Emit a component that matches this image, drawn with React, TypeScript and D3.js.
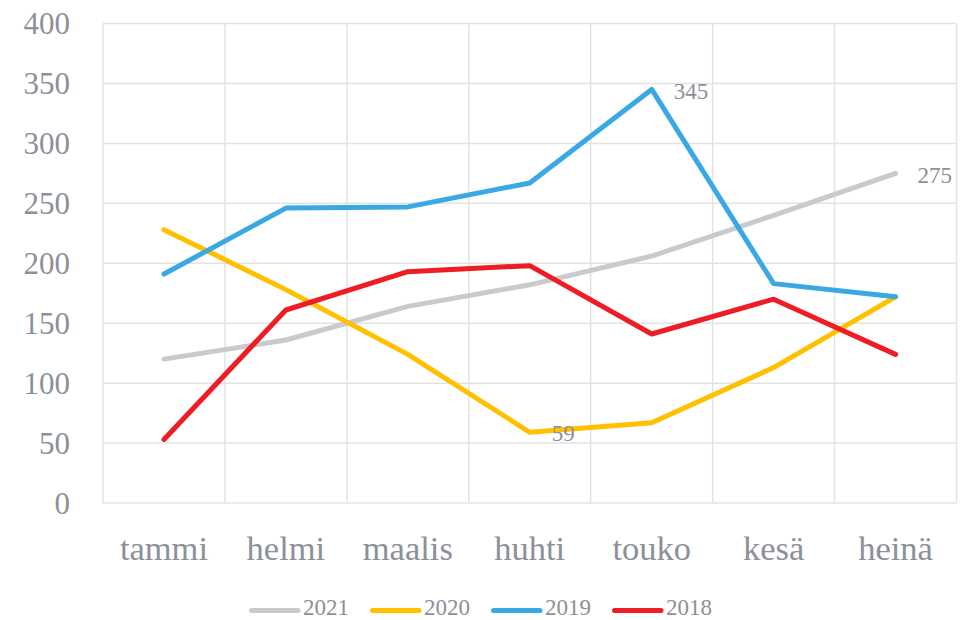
import React from "react";
import * as d3 from "d3";

const months = ["tammi", "helmi", "maalis", "huhti", "touko", "kesä", "heinä"];
const yTicks = [0, 50, 100, 150, 200, 250, 300, 350, 400];
const seriesNames = ["2021", "2020", "2019", "2018"];
const colors = ["#c9cacd", "#ffc000", "#3aa8e2", "#ee1d25"];
const v2021 = [120, 136, 164, 182, 206, 240, 275];
const v2020 = [228, 178, 124, 59, 67, 113, 172];
const v2019 = [191, 246, 247, 267, 345, 183, 172];
const v2018 = [53, 161, 193, 198, 141, 170, 124];
const seriesValues = [v2021, v2020, v2019, v2018];
// data labels: [series index, month index]
const dataLabels: [number, number][] = [[2, 4], [0, 6], [1, 3]];

const W = 962, H = 620;
const left = 103, right = 956.5, top = 23.5, bottom = 503;
const textColor = "#8c9099";
const font = "'Liberation Serif', 'DejaVu Serif', serif";

export default function App() {
  const x = d3.scaleBand<string>().domain(months).range([left, right]);
  const y = d3.scaleLinear().domain([0, 400]).range([bottom, top]);
  const cx = (i: number) => (x(months[i]) as number) + x.bandwidth() / 2;
  const line = d3.line<number>().x((_, i) => cx(i)).y((d) => y(d));
  const legendX = [249, 370, 491, 612];
  return (
    <svg width={W} height={H} style={{ position: "absolute", left: 0, top: 0, background: "#fff" }}>
      <g stroke="#e3e3e3" strokeWidth={1.5}>
        {yTicks.map((t) => (
          <line key={t} x1={left} x2={right} y1={y(t)} y2={y(t)} />
        ))}
        {months.map((m) => (
          <line key={m} x1={x(m)} x2={x(m)} y1={top} y2={bottom} />
        ))}
        <line x1={right} x2={right} y1={top} y2={bottom} />
      </g>
      <g fill={textColor} fontFamily={font} fontSize={31} textAnchor="end">
        {yTicks.map((t) => (
          <text key={t} x={70} y={y(t)} dy="0.35em">{t}</text>
        ))}
      </g>
      <g fill={textColor} fontFamily={font} fontSize={34.5} textAnchor="middle">
        {months.map((m, i) => (
          <text key={m} x={cx(i)} y={560}>{m}</text>
        ))}
      </g>
      <g fill="none" strokeWidth={5} strokeLinecap="round" strokeLinejoin="round">
        {seriesValues.map((vals, s) => (
          <path key={s} d={line(vals) as string} stroke={colors[s]} />
        ))}
      </g>
      <g fill={textColor} fontFamily={font} fontSize={23}>
        {dataLabels.map(([s, i]) => (
          <text key={s} x={cx(i) + 22} y={y(seriesValues[s][i])} dy="0.4em">{seriesValues[s][i]}</text>
        ))}
      </g>
      <g fontFamily={font} fontSize={23}>
        {seriesNames.map((n, s) => (
          <g key={n}>
            <line x1={legendX[s] + 2.5} x2={legendX[s] + 49} y1={610.5} y2={610.5} stroke={colors[s]} strokeWidth={5} strokeLinecap="round" />
            <text x={legendX[s] + 54} y={615} fill={textColor}>{n}</text>
          </g>
        ))}
      </g>
    </svg>
  );
}
